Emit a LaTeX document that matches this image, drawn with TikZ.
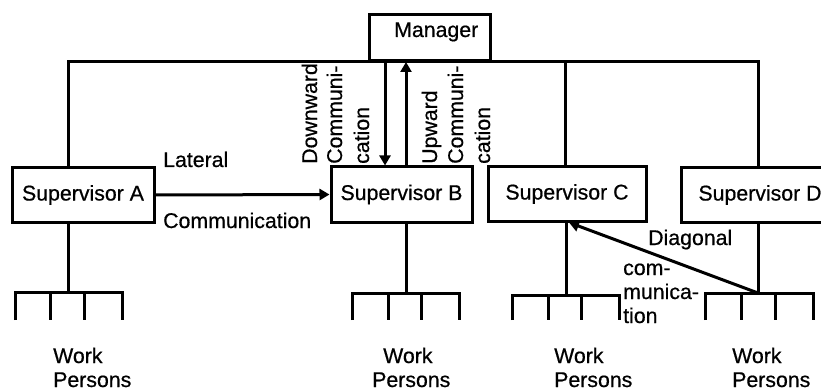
\documentclass[tikz,border=0pt]{standalone}
\usepackage{fontspec}
\setmainfont{Liberation Sans}[FakeBold=0.6]
\usetikzlibrary{arrows.meta}
\begin{document}
\begin{tikzpicture}[x=1pt,y=-1pt,
  ln/.style={line width=3pt},
  box/.style={draw,line width=3pt,inner sep=0pt,font=\fontsize{21.3}{25}\selectfont},
  txt/.style={font=\fontsize{21.3}{25}\selectfont,inner sep=0pt,anchor=base west},
  vtxt/.style={txt,rotate=90},
  arr/.style={ln,-{Triangle[length=10pt,width=11pt]}}
]
\useasboundingbox (0,0) rectangle (821,390);

% boxes
\node[box,minimum width=121pt,minimum height=46pt] (mgr) at (429.5,38) {};
\node[txt] (mgrt) at (394,37) {Manager};
\node[box,minimum width=142pt,minimum height=54pt] (supA) at (83,195) {Supervisor A};
\node[box,minimum width=141pt,minimum height=55pt] (supB) at (401.5,194.5) {Supervisor B};
\node[box,minimum width=158pt,minimum height=54pt] (supC) at (567,194) {Supervisor C};
\begin{scope}
\clip (0,0) rectangle (821,390);
\node[box,minimum width=158pt,minimum height=54pt] (supD) at (760,195) {Supervisor D};
\end{scope}

% bus
\coordinate (busL) at (68,62);
\coordinate (busR) at (758,62);
\coordinate (busC) at (565,62);
\draw[ln] (supA.north -| busL) -- (busL) -- (busR) -- (supD.north -| busR);
\draw[ln] (busC) -- (supC.north -| busC);

% vertical communication
\coordinate (dn) at (385,62);
\coordinate (up) at (406,62);
\draw[arr] (dn) -- (supB.north -| dn);
\draw[arr] (supB.north -| up) -- (up);
\node[vtxt] (dw1) at (317,164) {Downward};
\node[vtxt] (dw2) at (342,164) {Communi-};
\node[vtxt] (dw3) at (369,164) {cation};
\node[vtxt] (up1) at (437,164) {Upward};
\node[vtxt] (up2) at (463,164) {Communi-};
\node[vtxt] (up3) at (490,164) {cation};

% lateral
\draw[arr] (supA.east) -- (supB.west);
\node[txt] (lat1) at (163,167) {Lateral};
\node[txt] (lat2) at (163,228) {Communication};

% work person groups
\coordinate (wA) at (68,292);
\draw[ln] (supA.south -| wA) -- (wA);
\draw[ln] (15,320) -- (15,292) -- (122,292) -- (122,320);
\foreach \x in {50,84} \draw[ln] (\x,292) -- (\x,320);

\coordinate (wB) at (406,293);
\draw[ln] (supB.south -| wB) -- (wB);
\draw[ln] (352,320) -- (352,293) -- (459,293) -- (459,320);
\foreach \x in {388,421} \draw[ln] (\x,293) -- (\x,320);

\coordinate (wC) at (566,295);
\draw[ln] (supC.south -| wC) -- (wC);
\draw[ln] (512,320) -- (512,295) -- (619,295) -- (619,320);
\foreach \x in {548,581} \draw[ln] (\x,295) -- (\x,320);

\coordinate (wD) at (758,293);
\draw[ln] (supD.south -| wD) -- (wD);
\draw[ln] (705,320) -- (705,293) -- (813,293) -- (813,320);
\foreach \x in {741,775} \draw[ln] (\x,293) -- (\x,320);

% diagonal
\coordinate (dgx) at (569,0);
\draw[arr] (wD) -- (supC.south -| dgx);
\node[txt] (dg1) at (648,245) {Diagonal};
\node[txt] (dg2) at (623,275) {com-};
\node[txt] (dg3) at (623,299) {munica-};
\node[txt] (dg4) at (623,323) {tion};

% work persons labels
\node[txt] (pA1) at (53,363) {Work};
\node[txt] (pA2) at (53,387) {Persons};
\node[txt] (pB1) at (383,363) {Work};
\node[txt] (pB2) at (372,387) {Persons};
\node[txt] (pC1) at (554,363) {Work};
\node[txt] (pC2) at (554,387) {Persons};
\node[txt] (pD1) at (732,363) {Work};
\node[txt] (pD2) at (732,387) {Persons};
\end{tikzpicture}
\end{document}
